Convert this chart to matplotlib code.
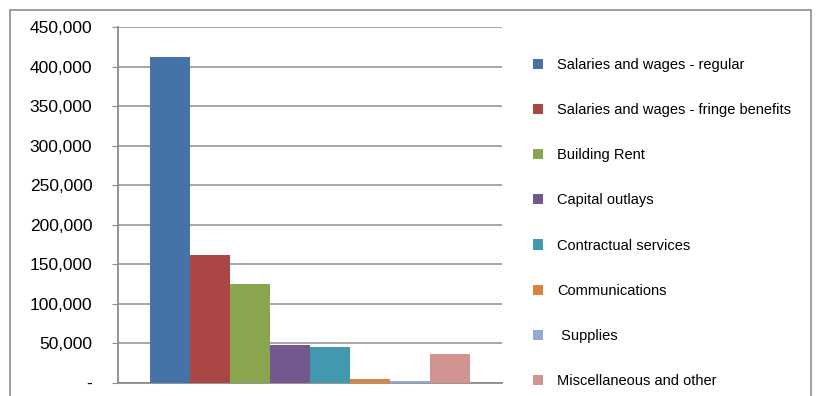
import numpy as np
import matplotlib.pyplot as plt
from matplotlib.patches import Rectangle, Patch
from matplotlib.ticker import FuncFormatter

categories = ['Salaries and wages - regular', 'Salaries and wages - fringe benefits',
              'Building Rent', 'Capital outlays', 'Contractual services',
              'Communications', ' Supplies', 'Miscellaneous and other']
values = [412000, 162000, 125000, 48500, 46000, 5000, 2500, 37000]
colors = ['#4572A7', '#AA4643', '#89A54E', '#71588F', '#4198AF', '#DB843D', '#93A9CF', '#D19392']
yticks = np.arange(0, 450001, 50000)

plt.rcParams['font.family'] = ['Liberation Sans', 'DejaVu Sans']

fig = plt.figure(figsize=(8.17, 3.96), dpi=100)
W, H = 817, 396
ax = fig.add_axes([118 / W, 13 / H, (502 - 118) / W, (383 - 27) / H])

n = len(values)
x = np.arange(n) - (n - 1) / 2
ax.bar(x, values, width=1.0, color=colors, zorder=3)
ax.set_xlim(-4.8, 4.8)
ax.set_ylim(0, 450000)
ax.set_yticks(yticks)
ax.yaxis.set_major_formatter(FuncFormatter(lambda v, p: '-' if v == 0 else f'{int(v):,}'))
ax.tick_params(axis='y', direction='out', length=4.5, color='#8c8c8c', labelsize=12.5, pad=14)
ax.set_xticks([])
ax.grid(axis='y', color='#a0a0a0', linewidth=1.3, zorder=0)
for s in ['top', 'right']:
    ax.spines[s].set_visible(False)
for s in ['left', 'bottom']:
    ax.spines[s].set_color('#8c8c8c')
    ax.spines[s].set_linewidth(1.3)

# outer frame
fig.patches.append(Rectangle((10 / W, -0.05), (811 - 10) / W, 1.05 - 10 / H,
                             transform=fig.transFigure, fill=False,
                             edgecolor='#8c8c8c', linewidth=1.2))

handles = [Patch(facecolor=c) for c in colors]
fig.legend(handles, categories, loc='upper left', bbox_to_anchor=(527 / W, 1 - 52 / H),
           frameon=False, fontsize=10.5, labelspacing=2.14, handlelength=0.7,
           handleheight=0.7, handletextpad=0.96, borderaxespad=0)

plt.savefig('out.png', dpi=100)
